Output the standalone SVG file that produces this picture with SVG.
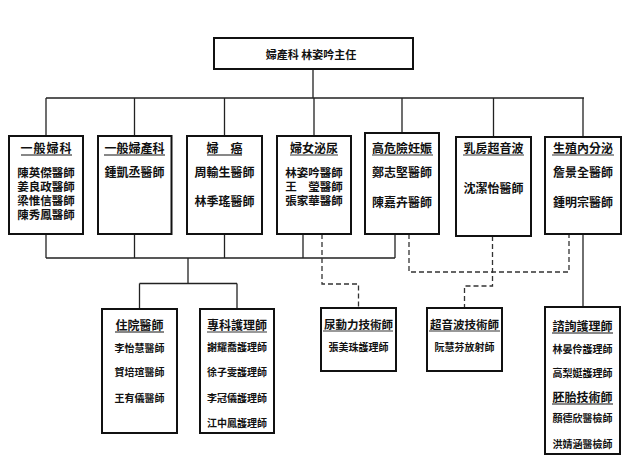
<svg xmlns="http://www.w3.org/2000/svg" width="626" height="470" viewBox="0 0 626 470">
<style>
.box{fill:#fff;stroke:#111;stroke-width:2}
text{font-family:"Noto Sans CJK TC","Noto Sans CJK SC",sans-serif;font-weight:700;fill:#111;text-anchor:middle}
.t{font-size:12px}
.n{font-size:12px}
.m{font-size:11.5px}
.s{font-size:10px}
.hd{font-size:11px}
.ul{stroke:#111;stroke-width:1}
.ug{stroke:#777;stroke-width:1.6}
.c{fill:none;stroke:#222;stroke-width:1.3}
.d{fill:none;stroke:#333;stroke-width:1.3;stroke-dasharray:5 3}
</style>
<rect width="626" height="470" fill="#fff"/>
<g id="connectors">
<path class="c" d="M313 69V98M46 98H584M46 98V136M134.5 98V136M224.5 98V136M314 98V136M402 98V133M493.5 98V137M583 98V136"/>
<path class="c" d="M46 234V258M134.5 234V258M224.5 234V258M303 234V258M395 234V258M46 258H395M188 258V283.5M139.5 283.5H237M139.5 283.5V309M237 283.5V309"/>
<path class="c" d="M583 234V307"/>
<path class="d" d="M322 234V284H358.5V308"/>
<path class="d" d="M409 234V272H569V234"/>
<path class="d" d="M492.5 236V286H464.5V308"/>
</g>
<g id="head">
<rect class="box" x="214" y="38" width="199" height="31"/>
<text class="hd" x="311" y="59">婦產科 林姿吟主任</text>
</g>
<g id="n1">
<rect class="box" x="9" y="136" width="74" height="98"/>
<text class="t" x="46.5" y="152.5" letter-spacing="1">一般婦科</text>
<line class="ul" x1="21" y1="155" x2="72" y2="155"/>
<text class="m" x="46" y="176.5">陳英傑醫師</text>
<text class="m" x="46" y="190.5">姜良政醫師</text>
<text class="m" x="46" y="204.5">梁惟信醫師</text>
<text class="m" x="46" y="218.5">陳秀鳳醫師</text>
</g>
<g id="n2">
<rect class="box" x="98" y="136" width="73.5" height="98"/>
<text class="t" x="134.5" y="152.5">一般婦產科</text>
<line class="ul" x1="104" y1="155" x2="165" y2="155"/>
<text class="n" x="134.5" y="176.5">鍾凱丞醫師</text>
</g>
<g id="n3">
<rect class="box" x="187" y="136" width="75" height="98"/>
<text class="t" x="224.5" y="152.5">婦　癌</text>
<line class="ul" x1="207" y1="155" x2="242" y2="155"/>
<text class="n" x="224.5" y="176.5">周輸生醫師</text>
<text class="n" x="224.5" y="205.5">林季瑤醫師</text>
</g>
<g id="n4">
<rect class="box" x="277" y="136" width="74" height="98"/>
<text class="t" x="314" y="152.5">婦女泌尿</text>
<line class="ug" x1="290" y1="155" x2="338" y2="155"/>
<text class="m" x="314" y="176.5">林姿吟醫師</text>
<text class="m" x="314" y="190.5">王　瑩醫師</text>
<text class="m" x="314" y="204.5">張家華醫師</text>
</g>
<g id="n5">
<rect class="box" x="365" y="133" width="74" height="101"/>
<text class="t" x="402" y="152.5">高危險妊娠</text>
<line class="ug" x1="372" y1="155" x2="433" y2="155"/>
<text class="n" x="402" y="176.5">鄭志堅醫師</text>
<text class="n" x="402" y="206.5">陳嘉卉醫師</text>
</g>
<g id="n6">
<rect class="box" x="456" y="137" width="75" height="99"/>
<text class="t" x="493.5" y="152.5">乳房超音波</text>
<line class="ug" x1="463" y1="155" x2="524" y2="155"/>
<text class="n" x="493.5" y="192.5">沈潔怡醫師</text>
</g>
<g id="n7">
<rect class="box" x="545" y="137" width="76" height="97"/>
<text class="t" x="583" y="152.5">生殖內分泌</text>
<line class="ug" x1="552" y1="155" x2="614" y2="155"/>
<text class="n" x="583" y="176.5">詹景全醫師</text>
<text class="n" x="583" y="206.5">鍾明宗醫師</text>
</g>
<g id="n8">
<rect class="box" x="102" y="309" width="75" height="124"/>
<text class="t" x="139.5" y="329.5">住院醫師</text>
<line class="ul" x1="115" y1="332" x2="164" y2="332"/>
<text class="s" x="139.5" y="351.5">李怡慧醫師</text>
<text class="s" x="139.5" y="376">賀培瑄醫師</text>
<text class="s" x="139.5" y="402">王有儀醫師</text>
</g>
<g id="n9">
<rect class="box" x="200" y="309" width="74" height="124"/>
<text class="t" x="237" y="329.5">專科護理師</text>
<line class="ug" x1="207" y1="332" x2="267" y2="332"/>
<text class="s" x="237" y="351">謝耀喬護理師</text>
<text class="s" x="237" y="376">徐子雯護理師</text>
<text class="s" x="237" y="402">李冠儀護理師</text>
<text class="s" x="237" y="427">江中鳳護理師</text>
</g>
<g id="n10">
<rect class="box" x="321" y="308" width="75" height="63"/>
<text class="t" x="358.5" y="328.5" style="font-size:11.5px">尿動力技術師</text>
<line class="ug" x1="323" y1="331" x2="393" y2="331"/>
<text class="s" x="358.5" y="351">張美珠護理師</text>
</g>
<g id="n11">
<rect class="box" x="427" y="308" width="75" height="63"/>
<text class="t" x="464.5" y="328.5" style="font-size:11.5px">超音波技術師</text>
<line class="ug" x1="429" y1="331" x2="500" y2="331"/>
<text class="s" x="464.5" y="351">阮慧芬放射師</text>
</g>
<g id="n12">
<rect class="box" x="545" y="307" width="75" height="147"/>
<text class="t" x="582.5" y="330.5">諮詢護理師</text>
<line class="ul" x1="552" y1="333" x2="613" y2="333"/>
<text class="s" x="582.5" y="353">林晏伶護理師</text>
<text class="s" x="582.5" y="377">高梨娗護理師</text>
<text class="t" x="582.5" y="401.5">胚胎技術師</text>
<line class="ul" x1="552" y1="404" x2="613" y2="404"/>
<text class="s" x="582.5" y="422">顏德欣醫檢師</text>
<text class="s" x="582.5" y="448">洪婧涵醫檢師</text>
</g>
</svg>
